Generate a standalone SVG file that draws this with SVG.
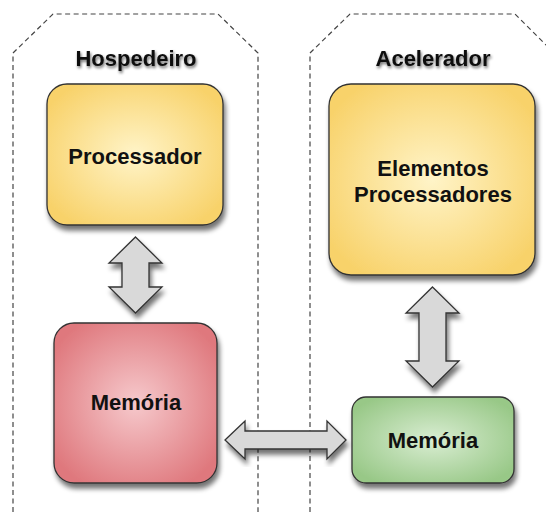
<svg xmlns="http://www.w3.org/2000/svg" width="546" height="512" viewBox="0 0 546 512">
<style>
.zone{fill:none;stroke:#444;stroke-width:1.2;stroke-dasharray:5,3.5}
.box{stroke:#333;stroke-width:1.3;filter:url(#sh)}
.arr{fill:#d9d9d9;stroke:#333;stroke-width:1.3;stroke-linejoin:miter;filter:url(#sh)}
.t{font-family:"Liberation Sans",Arial,sans-serif;font-weight:bold;font-size:22px;fill:#111;text-anchor:middle}
.title{filter:url(#tsh)}
</style>
<defs>
<filter id="sh" x="-20%" y="-20%" width="140%" height="140%">
<feGaussianBlur in="SourceAlpha" stdDeviation="2.5"/>
<feOffset dx="2" dy="5" result="b"/>
<feComponentTransfer><feFuncA type="linear" slope="0.55"/></feComponentTransfer>
<feMerge><feMergeNode/><feMergeNode in="SourceGraphic"/></feMerge>
</filter>
<filter id="tsh" x="-20%" y="-40%" width="140%" height="180%">
<feGaussianBlur in="SourceAlpha" stdDeviation="1.5"/>
<feOffset dx="1" dy="2"/>
<feComponentTransfer><feFuncA type="linear" slope="0.6"/></feComponentTransfer>
<feMerge><feMergeNode/><feMergeNode in="SourceGraphic"/></feMerge>
</filter>
<radialGradient id="gy" cx="50%" cy="50%" r="60%">
<stop offset="0" stop-color="#fff4c8"/>
<stop offset="1" stop-color="#f8d26a"/>
</radialGradient>
<radialGradient id="gr" cx="50%" cy="50%" r="60%">
<stop offset="0" stop-color="#f6c9cc"/>
<stop offset="1" stop-color="#df787d"/>
</radialGradient>
<radialGradient id="gg" cx="50%" cy="50%" r="60%">
<stop offset="0" stop-color="#d9edd2"/>
<stop offset="1" stop-color="#98c887"/>
</radialGradient>
</defs>
<rect width="546" height="512" fill="#fff"/>
<g id="zone-hospedeiro">
<path class="zone" d="M13,512 V53 L53,14 H218 L258,53 V512"/>
<text class="t title" x="136" y="66">Hospedeiro</text>
</g>
<g id="zone-acelerador">
<path class="zone" d="M310,512 V53 L350,14 H515 L554,53"/>
<text class="t title" x="433" y="66">Acelerador</text>
</g>
<g id="processador">
<rect class="box" x="47" y="84" width="176" height="141" rx="20" fill="url(#gy)"/>
<text class="t" x="135" y="164">Processador</text>
</g>
<g id="memoria-host">
<rect class="box" x="54" y="323" width="163" height="160" rx="20" fill="url(#gr)"/>
<text class="t" x="136" y="410">Memória</text>
</g>
<g id="elementos">
<rect class="box" x="329" y="84" width="206" height="191" rx="22" fill="url(#gy)"/>
<text class="t" x="433" y="176">Elementos</text>
<text class="t" x="433" y="202">Processadores</text>
</g>
<g id="memoria-acel">
<rect class="box" x="352" y="397" width="162" height="86" rx="14" fill="url(#gg)"/>
<text class="t" x="433" y="448">Memória</text>
</g>
<g id="connectors">
<path class="arr" d="M135.5,237 L162,263 H149 V287 H162 L135.5,313 L109,287 H122 V263 H109 Z"/>
<path class="arr" d="M432.5,287 L459,313 H446 V361 H459 L432.5,387 L406,361 H419 V313 H406 Z"/>
<path class="arr" d="M225,440 L245,421 V431 H327 V421 L346,440 L327,459 V449 H245 V459 Z"/>
</g>
</svg>
